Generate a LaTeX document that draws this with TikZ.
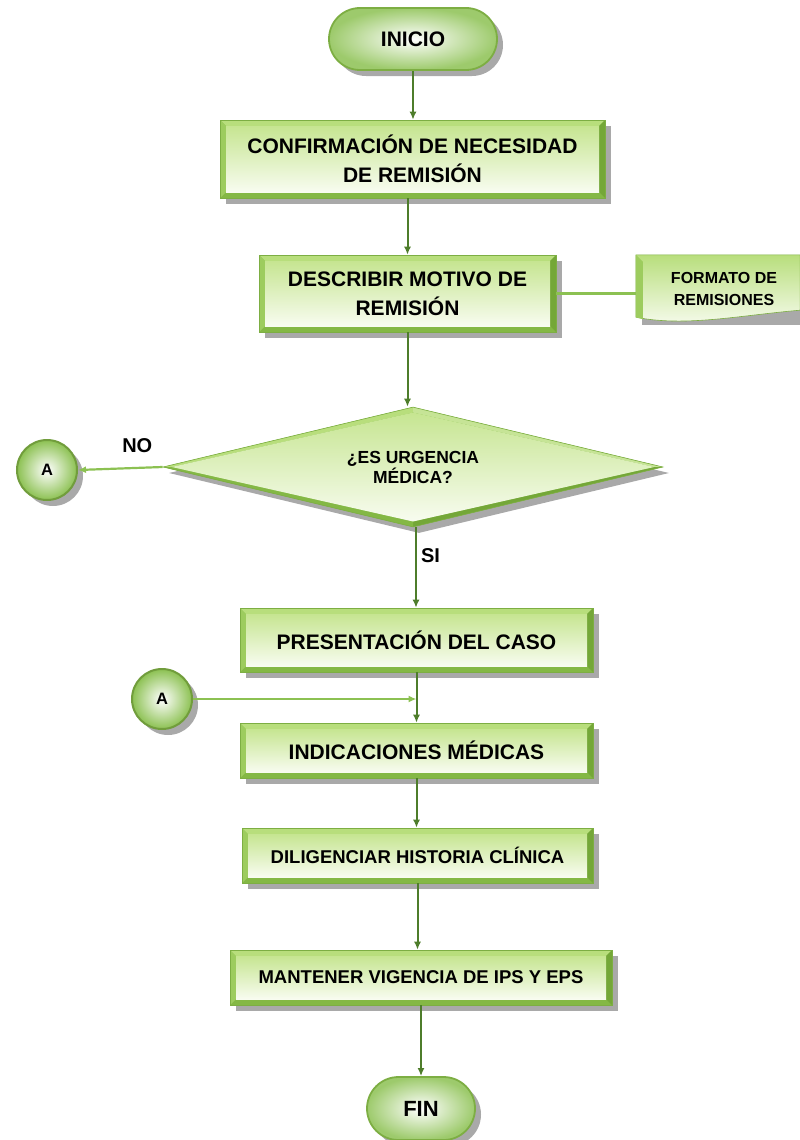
\documentclass[tikz,border=0pt]{standalone}
\usepackage{fontspec}
\setmainfont{Liberation Sans}
\usetikzlibrary{shapes.geometric,shapes.misc,shadows,arrows.meta,calc}
\definecolor{bvTop}{HTML}{B8DE7C}
\definecolor{bvLeft}{HTML}{9DCC5E}
\definecolor{bvRight}{HTML}{74A738}
\definecolor{bvBot}{HTML}{84B845}
\definecolor{faceTop}{HTML}{C6E591}
\definecolor{faceBot}{HTML}{F8FCF0}
\definecolor{edgeg}{HTML}{7DAE43}
\definecolor{arr}{HTML}{4E7D2B}
\definecolor{lgreen}{HTML}{8CC152}
\definecolor{shad}{HTML}{8C8C8C}
\newcommand\bevelpic{%
  \path (path picture bounding box.north west) coordinate (bNW)
        (path picture bounding box.north east) coordinate (bNE)
        (path picture bounding box.south west) coordinate (bSW)
        (path picture bounding box.south east) coordinate (bSE);
  \fill[bvTop] (bNW) -- (bNE) -- ([shift={(-6pt,-6pt)}]bNE) -- ([shift={(6pt,-6pt)}]bNW) -- cycle;
  \fill[bvBot] (bSW) -- (bSE) -- ([shift={(-6pt,6pt)}]bSE) -- ([shift={(6pt,6pt)}]bSW) -- cycle;
  \fill[bvLeft] (bNW) -- (bSW) -- ([shift={(6pt,6pt)}]bSW) -- ([shift={(6pt,-6pt)}]bNW) -- cycle;
  \fill[bvRight] (bNE) -- (bSE) -- ([shift={(-6pt,6pt)}]bSE) -- ([shift={(-6pt,-6pt)}]bNE) -- cycle;
  \shade[top color=faceTop, bottom color=faceBot] ([shift={(6pt,-6pt)}]bNW) rectangle ([shift={(-6pt,6pt)}]bSE);
}
\newcommand\diamondpic{%
  \path (path picture bounding box.center) coordinate (dC)
        (path picture bounding box.west) coordinate (dL)
        (path picture bounding box.east) coordinate (dR)
        (path picture bounding box.north) coordinate (dT)
        (path picture bounding box.south) coordinate (dB);
  \path ($(dC)!0.965!(dL)$) coordinate (iL) ($(dC)!0.965!(dR)$) coordinate (iR)
        ($(dC)!0.91!(dT)$) coordinate (iT) ($(dC)!0.91!(dB)$) coordinate (iB);
  \fill[bvTop] (dL) -- (dT) -- (iT) -- (iL) -- cycle;
  \fill[bvTop!80!white] (dT) -- (dR) -- (iR) -- (iT) -- cycle;
  \fill[bvRight] (dR) -- (dB) -- (iB) -- (iR) -- cycle;
  \fill[bvBot] (dB) -- (dL) -- (iL) -- (iB) -- cycle;
  \shade[top color=faceTop, bottom color=faceBot] (iL) -- (iT) -- (iR) -- (iB) -- cycle;
}
\tikzset{
  shd/.style={drop shadow={shadow xshift=6pt, shadow yshift=-6pt, fill=shad, opacity=0.75}},
  bevelbox/.style={rectangle, inner sep=0pt, align=center, shd, draw=edgeg, line width=0.6pt,
                   fill=lgreen, path picture={\bevelpic}},
  pill/.style={rounded rectangle, inner sep=0pt, shd, draw=edgeg, line width=1.8pt,
               inner color=white, outer color=lgreen!85, font=\fontsize{21}{25}\selectfont\bfseries},
  conn/.style={circle, inner sep=0pt, minimum size=60pt, shd, draw=edgeg!90!black, line width=2pt,
               inner color=white, outer color=lgreen, font=\fontsize{16.5}{18}\selectfont\bfseries},
  decis/.style={diamond, inner sep=0pt, shape aspect=4.17, align=center, shd, draw=edgeg,
                line width=0.6pt, fill=lgreen, path picture={\diamondpic},
                font=\fontsize{17.5}{20}\selectfont\bfseries},
  big/.style={font=\fontsize{21}{29}\selectfont\bfseries},
  mid/.style={font=\fontsize{18.5}{22}\selectfont\bfseries},
  small/.style={font=\fontsize{16}{21.5}\selectfont\bfseries},
  lab/.style={font=\fontsize{20}{24}\selectfont\bfseries, inner sep=0pt},
  flow/.style={draw=arr, line width=2pt, -{Latex[length=8pt,width=7pt]}},
  lflow/.style={draw=lgreen, line width=2.2pt, -{Latex[length=8pt,width=7pt]}},
  link/.style={draw=lgreen, line width=3pt}
}
\begin{document}
\begin{tikzpicture}[x=1pt,y=-1pt]
\useasboundingbox (0,0) rectangle (800,1140);

% nodes
\node[pill, minimum width=168pt, minimum height=62pt] (inicio) at (413,39) {INICIO};
\node[bevelbox, big, minimum width=385pt, minimum height=78pt] (conf) at (412.5,159)
  {CONFIRMACIÓN DE NECESIDAD\\DE REMISIÓN};
\node[bevelbox, big, minimum width=297pt, minimum height=77pt] (desc) at (407.5,293.5)
  {DESCRIBIR MOTIVO DE\\REMISIÓN};
\node[small, align=center, inner sep=0pt, minimum width=164pt, minimum height=64pt] (fmt) at (718,287) {};
\node[decis, minimum width=500pt, minimum height=120pt] (dec) at (413,467)
  {¿ES URGENCIA\\MÉDICA?};
\node[conn] (a1) at (47,470) {A};
\node[bevelbox, big, minimum width=353pt, minimum height=64pt] (pres) at (416.5,640)
  {PRESENTACIÓN DEL CASO};
\node[conn] (a2) at (162,699) {A};
\node[bevelbox, big, minimum width=353pt, minimum height=55pt] (ind) at (416.5,750.5)
  {INDICACIONES MÉDICAS};
\node[bevelbox, mid, minimum width=351pt, minimum height=55pt] (dil) at (417.5,855.5)
  {DILIGENCIAR HISTORIA CLÍNICA};
\node[bevelbox, mid, minimum width=382pt, minimum height=55pt] (man) at (421,977.5)
  {MANTENER VIGENCIA DE IPS Y EPS};
\node[pill, minimum width=108pt, minimum height=63pt, font=\fontsize{22}{26}\selectfont\bfseries] (fin) at (421,1108.5) {FIN};

% document shape for FORMATO DE REMISIONES
\fill[shad, opacity=0.75] ([shift={(6pt,-6pt)}]fmt.north west) -- ([shift={(6pt,-6pt)}]fmt.north east)
  -- ([shift={(6pt,-6pt)}]fmt.south east) -- ([shift={(6pt,-6pt)}]fmt.south west) -- cycle;
\shade[top color=bvTop, bottom color=faceBot, draw=edgeg, line width=0.6pt]
  (fmt.north west) -- (fmt.north east) -- ([yshift=9pt]fmt.south east)
  .. controls ([xshift=-60pt,yshift=4pt]fmt.south east) and ([xshift=50pt,yshift=-8pt]fmt.south west)
  .. ([yshift=2pt]fmt.south west) -- cycle;
\fill[bvLeft] (fmt.north west) -- ([shift={(7pt,-7pt)}]fmt.north west) -- ([shift={(7pt,0pt)}]fmt.south west)
  -- ([yshift=2pt]fmt.south west) -- cycle;
\node[small, align=center] at ([xshift=6pt,yshift=-2pt]fmt.center) {FORMATO DE\\REMISIONES};

% connectors
\draw[flow] (inicio.south) -- (inicio.south |- conf.north);
\draw[flow] (desc.north |- conf.south) -- (desc.north);
\draw[flow] (desc.south) -- (desc.south |- dec.north);
\draw[link] (desc.east) -- (desc.east -| fmt.west);
\draw[lflow] (dec.west) -- (a1.east) node[lab, pos=0.3, above=14pt] {NO};
\draw[flow] ([xshift=3pt]dec.south) -- ([xshift=3pt]dec.south |- pres.north)
  node[lab, pos=0.35, right=4pt] {SI};
\coordinate (j) at (pres.south |- a2.east);
\draw[flow] (pres.south) -- (pres.south |- ind.north);
\draw[lflow] (a2.east) -- (j);
\draw[flow] (ind.south) -- (ind.south |- dil.north);
\draw[flow] (dil.south) -- (dil.south |- man.north);
\draw[flow] (man.south) -- (man.south |- fin.north);
\end{tikzpicture}
\end{document}
